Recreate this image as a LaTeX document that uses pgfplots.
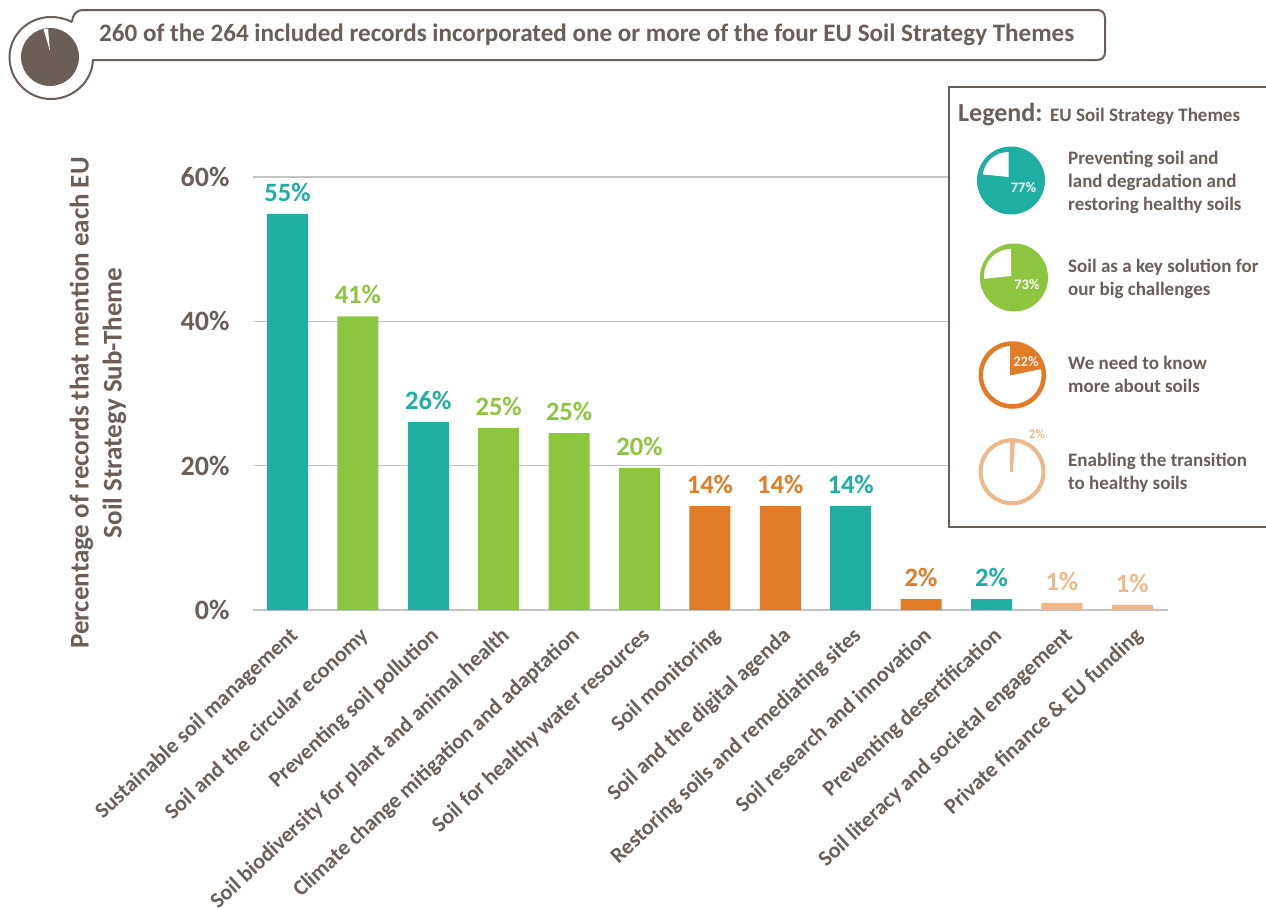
\documentclass[border=0pt]{standalone}
\usepackage{pgfplots}
\usepackage{pgfplotstable}
\usepackage{fontspec}
\setmainfont{Carlito}[BoldFont={Carlito Bold}]
\pgfplotsset{compat=1.18}
\definecolor{teal1}{HTML}{1EAEA2}
\definecolor{green1}{HTML}{8CC63E}
\definecolor{orange1}{HTML}{E27B25}
\definecolor{peach1}{HTML}{EFB88A}
\definecolor{brown1}{HTML}{6B5E57}
\definecolor{grid1}{HTML}{C4C4C4}
\newcommand{\fs}[1]{\fontsize{#1}{#1}\selectfont\bfseries}
\pgfplotstableread{
x y lab
0 54.9 55\%
2 26.05 26\%
8 14.4 14\%
10 1.5 2\%
}\teal
\pgfplotstableread{
x y lab
1 40.7 41\%
3 25.2 25\%
4 24.5 25\%
5 19.7 20\%
}\green
\pgfplotstableread{
x y lab
6 14.4 14\%
7 14.4 14\%
9 1.5 2\%
}\orange
\pgfplotstableread{
x y lab
11 1.0 1\%
12 0.7 1\%
}\peach
\begin{document}
\begin{tikzpicture}
\path[use as bounding box,clip] (0pt,0pt) rectangle (1266pt,-908pt);
\begin{axis}[
  at={(253pt,-610pt)},anchor=south west,scale only axis,
  width=915pt,height=433pt,
  xmin=-0.49,xmax=12.507,ymin=0,ymax=60,
  axis line style={draw=none},
  major tick length=0pt,
  ymajorgrids,
  grid style={grid1,line width=1.4pt},
  ytick={0,20,40,60},
  yticklabels={0\%,20\%,40\%,60\%},
  yticklabel style={font=\fs{28},text=brown1,xshift=-20pt},
  xtick={0,...,12},
  xticklabels={Sustainable soil management,Soil and the circular economy,Preventing soil pollution,Soil biodiversity for plant and animal health,Climate change mitigation and adaptation,Soil for healthy water resources,Soil monitoring,Soil and the digital agenda,Restoring soils and remediating sites,Soil research and innovation,Preventing desertification,Soil literacy and societal engagement,Private finance \& EU funding},
  xticklabel style={font=\fs{22},text=brown1,rotate=43,anchor=north east,xshift=-10pt,yshift=-12pt,inner sep=0pt},
  ybar,bar width=41pt,bar shift=0pt,
  clip=false,
  nodes near coords,
  point meta=explicit symbolic,
  every node near coord/.append style={font=\fs{26.5},yshift=9pt},
  ylabel={Percentage of records that mention each EU\\Soil Strategy Sub-Theme},
  ylabel style={font=\fontsize{27}{33}\selectfont\bfseries,text=brown1,align=center,at={(-155pt,207pt)},anchor=center,rotate=0},
]
\addplot[fill=teal1,draw=none,every node near coord/.append style={text=teal1}] table[x=x,y=y,meta=lab]{\teal};
\addplot[fill=green1,draw=none,every node near coord/.append style={text=green1}] table[x=x,y=y,meta=lab]{\green};
\addplot[fill=orange1,draw=none,every node near coord/.append style={text=orange1}] table[x=x,y=y,meta=lab]{\orange};
\addplot[fill=peach1,draw=none,every node near coord/.append style={text=peach1}] table[x=x,y=y,meta=lab]{\peach};
\end{axis}
\begin{scope}[x=1pt,y=-1pt]
% header
\draw[brown1,line width=2pt,fill=white]
  (72,22) .. controls (73,14) and (76,10) .. (84,10) -- (1097,10)
  .. controls (1102,10) and (1105,13) .. (1105,18) -- (1105,52)
  .. controls (1105,57) and (1102,60) .. (1097,60) -- (93,60)
  .. controls (92,82) and (73,99) .. (51,99)
  .. controls (28,99) and (9.5,80) .. (9.5,57.5)
  .. controls (9.5,35) and (28,17) .. (51,17)
  .. controls (59,17) and (66,19) .. (72,22);
\fill[brown1] (50,57) circle (29);
\fill[white] (50,51) -- (43.5,29.5) -- (48,28.5) -- cycle;
\node[anchor=west,text=brown1,font=\fs{25.1},inner sep=0pt] at (99,35) {260 of the 264 included records incorporated one or more of the four EU Soil Strategy Themes};
% legend
\draw[brown1,line width=1.6pt,fill=white] (949,87) rectangle (1275,527);
\node[anchor=base west,text=brown1,font=\fs{26},inner sep=0pt] at (958,121) {Legend:};
\node[anchor=base west,text=brown1,font=\fs{19},inner sep=0pt] at (1050,121) {EU Soil Strategy Themes};
% teal pie
\fill[teal1] (1011,180.5) circle (34);
\fill[white] (1008.5,177) -- (1008.5,152) arc[start angle=-90,end angle=-172,radius=26] -- cycle;
\node[text=white,font=\fs{14.5},inner sep=0pt] at (1023.5,187.5) {77\%};
% green pie
\fill[green1] (1014,277.5) circle (34);
\fill[white] (1011,276) -- (1011,249) arc[start angle=-90,end angle=-186,radius=27] -- cycle;
\node[text=white,font=\fs{14.5},inner sep=0pt] at (1027,285) {73\%};
% orange pie
\draw[orange1,line width=4.5pt] (1012.3,375) circle (31.5);
\fill[orange1] (1010,375.5) -- (1010,343) arc[start angle=-90,end angle=-11,radius=32] -- cycle;
\node[text=white!85!orange1,font=\fs{14.5},inner sep=0pt] at (1026,362) {22\%};
% peach pie
\draw[peach1,line width=4pt] (1012,471.7) circle (31.5);
\fill[peach1] (1010,472) -- (1010,440) -- (1015,440) -- (1013,472) -- cycle;
\node[text=peach1,font=\fs{13},inner sep=0pt] at (1037,434) {2\%};
% legend text
\begin{scope}[every node/.style={anchor=base west,text=brown1,font=\fs{19},inner sep=0pt}]
\node at (1068,164) {Preventing soil and};
\node at (1068,187) {land degradation and};
\node at (1068,210) {restoring healthy soils};
\node at (1068,272) {Soil as a key solution for};
\node at (1068,295) {our big challenges};
\node at (1068,369) {We need to know};
\node at (1068,392) {more about soils};
\node at (1068,466) {Enabling the transition};
\node at (1068,489) {to healthy soils};
\end{scope}
\end{scope}
\end{tikzpicture}
\end{document}
